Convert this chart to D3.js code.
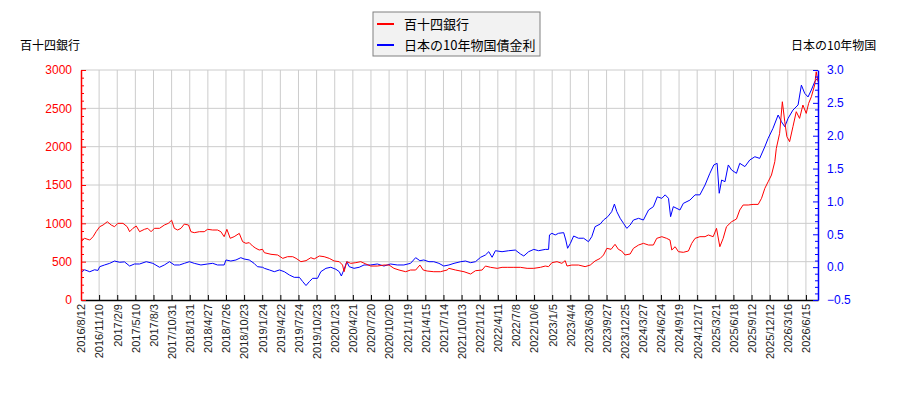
<!DOCTYPE html>
<html>
<head>
<meta charset="utf-8">
<script src="https://cdn.jsdelivr.net/npm/d3@7"></script>
<style>
  body { margin: 0; background: #fff; }
  svg { font-family: "DejaVu Sans", "Noto Sans CJK JP", sans-serif; }
  .cjk { font-family: "Noto Sans CJK JP", "DejaVu Sans", sans-serif; }
</style>
</head>
<body>
<div id="chart"></div>
<script>
// x tick labels, one every 60 trading days
const dateLabels = [
  '2016/8/12', '2016/11/10', '2017/2/9', '2017/5/10', '2017/8/3', '2017/10/31',
  '2018/1/31', '2018/4/27', '2018/7/26', '2018/10/23', '2019/1/24', '2019/4/22',
  '2019/7/24', '2019/10/23', '2020/1/23', '2020/4/21', '2020/7/20', '2020/10/20',
  '2021/1/19', '2021/4/15', '2021/7/14', '2021/10/13', '2022/1/12', '2022/4/11',
  '2022/7/8', '2022/10/6', '2023/1/5', '2023/4/4', '2023/6/30', '2023/9/27',
  '2023/12/25', '2024/3/27', '2024/6/24', '2024/9/19', '2024/12/17', '2025/3/21',
  '2025/6/18', '2025/9/12', '2025/12/12', '2026/3/16', '2026/6/15'
];
const tickStep = 60;
const lastDay = 2440;

// 百十四銀行 stock price (trading-day index, yen)
const redDays = [
  0, 12, 29, 40, 50, 62, 73, 87, 100, 111, 122, 139, 153, 161, 172, 183, 194, 210, 221, 232,
  243, 260, 276, 289, 300, 309, 320, 331, 342, 356, 364, 375, 392, 408, 419, 436, 452, 463, 474, 483,
  494, 507, 524, 535, 546, 557, 568, 579, 590, 601,
  607, 629, 651, 668, 684, 701, 712, 728, 745, 761, 772, 789, 805, 822, 838, 855, 866, 871, 880, 893,
  910, 926, 943, 959, 981, 1003, 1020, 1036, 1053, 1075, 1091, 1108, 1122, 1133, 1146, 1168, 1190, 1212,
  1218, 1240, 1268, 1290, 1306, 1328, 1339, 1356, 1378, 1394, 1411, 1433, 1455, 1477, 1499, 1521, 1537, 1548,
  1559, 1576, 1592, 1603, 1609, 1625, 1647, 1669, 1686, 1702, 1719, 1730, 1741, 1755, 1768, 1779, 1790, 1801, 1818,
  1829, 1846, 1862, 1879, 1895, 1906, 1923, 1939, 1950, 1956, 1967, 1978, 1994, 2011, 2022, 2033, 2049, 2066,
  2077, 2093, 2104, 2115, 2126, 2137, 2154, 2170, 2181, 2192, 2209, 2225, 2242, 2253, 2264, 2275, 2286, 2297,
  2302, 2313, 2322, 2330, 2337, 2346, 2357, 2368, 2379, 2390, 2401, 2409, 2418, 2429, 2434, 2440
];
const redValues = [
  760, 805, 782, 826, 891, 956, 978, 1021, 978, 956, 1000, 1000, 956, 891, 935, 965, 891, 922, 935, 891,
  935, 935, 978, 1000, 1040, 935, 913, 935, 990, 978, 891, 878, 891, 891, 922, 913, 913, 891, 826, 922,
  805, 826, 869, 761, 739, 748, 704, 674, 652, 661,
  617, 596, 587, 543, 565, 565, 543, 500, 513, 552, 535, 574, 565, 543, 509, 500, 456, 369, 500, 478,
  487, 500, 470, 443, 443, 456, 456, 413, 391, 369, 391, 391, 456, 391, 378, 369, 369, 391,
  413, 391, 369, 339, 382, 391, 443, 426, 413, 426, 426, 426, 426, 413, 413, 426, 443, 435,
  487, 500, 478, 513, 443, 456, 456, 435, 456, 509, 543, 587, 674, 661, 726, 661, 639, 587, 600,
  674, 717, 739, 717, 717, 804, 826, 804, 782, 652, 695, 630, 622, 639, 739, 804, 826, 826,
  848, 826, 935, 695, 804, 956, 1021, 1056, 1174, 1239, 1239, 1247, 1247, 1326, 1456, 1543, 1630, 1804,
  1978, 2174, 2586, 2325, 2130, 2065, 2260, 2456, 2369, 2543, 2434, 2565, 2651, 2804, 2977, 2847
];

// 日本の10年物国債金利 (trading-day index, %)
const blueDays = [
  0, 12, 29, 45, 56, 62, 78, 95, 111, 128, 144, 161, 177, 194, 216, 238, 260, 276, 293, 309,
  326, 342, 359, 375, 397, 419, 436, 452, 474, 480, 496, 513, 529, 540, 557, 573, 584, 601,
  607, 624, 640, 657, 673, 690, 706, 723, 734, 745, 756, 767, 783, 794, 811, 827, 844, 855, 862, 871,
  880, 888, 904, 921, 937, 959, 981, 1003, 1025, 1047, 1069, 1091, 1108, 1122, 1135, 1152, 1168, 1185, 1201,
  1218, 1235, 1257, 1273, 1290, 1306, 1323, 1339, 1350, 1361, 1372, 1394, 1416, 1438, 1455, 1466, 1482, 1499,
  1515, 1537, 1548, 1551, 1559, 1570, 1581, 1598, 1605, 1611, 1620, 1631, 1647, 1664, 1680, 1691, 1702, 1719,
  1730, 1744, 1757, 1766, 1774, 1785, 1796, 1807, 1818,
  1829, 1846, 1862, 1879, 1895, 1908, 1923, 1934, 1945, 1952, 1961, 1983, 1994, 2016, 2033, 2049, 2066, 2082,
  2095, 2106, 2113, 2121, 2132, 2143, 2154, 2170, 2181, 2198, 2214, 2231, 2247, 2264, 2275, 2291, 2308, 2319,
  2330, 2341, 2357, 2374, 2385, 2396, 2407, 2418, 2429, 2437
];
const blueValues = [
  -0.08, -0.04, -0.07, -0.04, -0.05, 0.007, 0.033, 0.058, 0.093, 0.074, 0.08, 0.017, 0.048, 0.048, 0.083, 0.058, -0.002, 0.033, 0.083, 0.033,
  0.033, 0.058, 0.083, 0.058, 0.033, 0.048, 0.058, 0.033, 0.033, 0.109, 0.093, 0.109, 0.144, 0.124, 0.109, 0.058, 0.007, -0.002,
  -0.018, -0.043, -0.069, -0.043, -0.069, -0.12, -0.155, -0.155, -0.22, -0.28, -0.22, -0.17, -0.17, -0.069, -0.018, -0.002, -0.033, -0.069, -0.135, -0.033,
  0.083, 0.007, -0.018, -0.002, 0.033, 0.033, 0.048, 0.017, 0.048, 0.033, 0.033, 0.058, 0.144, 0.098, 0.109, 0.083, 0.083, 0.058, 0.017,
  0.033, 0.058, 0.083, 0.093, 0.068, 0.083, 0.15, 0.185, 0.235, 0.15, 0.25, 0.235, 0.25, 0.26, 0.2, 0.17, 0.235, 0.27,
  0.25, 0.27, 0.27, 0.49, 0.515, 0.49, 0.515, 0.525, 0.413, 0.287, 0.36, 0.474, 0.44, 0.44, 0.387, 0.463, 0.616, 0.656,
  0.717, 0.768, 0.844, 0.96, 0.844, 0.743, 0.667, 0.59, 0.64,
  0.717, 0.743, 0.717, 0.87, 0.92, 1.07, 1.047, 1.1, 1.047, 0.768, 0.92, 0.87, 0.97, 1.02, 1.1, 1.1, 1.25, 1.428,
  1.555, 1.58, 1.124, 1.326, 1.3, 1.555, 1.478, 1.428, 1.58, 1.53, 1.63, 1.68, 1.655, 1.833, 1.96, 2.113, 2.315, 2.213,
  2.137, 2.265, 2.39, 2.468, 2.77, 2.645, 2.59, 2.696, 2.82, 2.87
];

const redTicks = [0, 500, 1000, 1500, 2000, 2500, 3000];
const blueTicks = [-0.5, 0.0, 0.5, 1.0, 1.5, 2.0, 2.5, 3.0];

const width = 900, height = 400;
const margin = { top: 70, right: 82, bottom: 100, left: 81 };
const innerW = width - margin.left - margin.right;
const innerH = height - margin.top - margin.bottom;

const svg = d3.select('#chart').append('svg')
  .attr('width', width)
  .attr('height', height);

const g = svg.append('g')
  .attr('transform', `translate(${margin.left},${margin.top})`);

const x = d3.scaleLinear().domain([0, lastDay]).range([0, innerW]);
const yL = d3.scaleLinear().domain([0, 3000]).range([innerH, 0]);
const yR = d3.scaleLinear().domain([-0.5, 3.0]).range([innerH, 0]);

const xTicks = dateLabels.map((d, i) => i * tickStep);

// Grid
g.append('g')
  .selectAll('line')
  .data(xTicks.slice(1))
  .join('line')
  .attr('x1', d => x(d)).attr('x2', d => x(d))
  .attr('y1', 0).attr('y2', innerH)
  .attr('stroke', '#cccccc');

g.append('g')
  .selectAll('line')
  .data(redTicks.slice(1))
  .join('line')
  .attr('x1', 0).attr('x2', innerW)
  .attr('y1', d => yL(d)).attr('y2', d => yL(d))
  .attr('stroke', '#cccccc');

// Lines
const blueData = blueDays.map((d, i) => [d, blueValues[i]]);
const redData = redDays.map((d, i) => [d, redValues[i]]);

g.append('path')
  .datum(blueData)
  .attr('fill', 'none')
  .attr('stroke', '#0000ff')
  .attr('stroke-width', 1)
  .attr('d', d3.line().x(d => x(d[0])).y(d => yR(d[1])));

g.append('path')
  .datum(redData)
  .attr('fill', 'none')
  .attr('stroke', '#ff0000')
  .attr('stroke-width', 1)
  .attr('d', d3.line().x(d => x(d[0])).y(d => yL(d[1])));

// Bottom axis
const xAxis = g.append('g')
  .attr('transform', `translate(0,${innerH})`)
  .call(d3.axisBottom(x).tickValues(xTicks).tickSize(-5).tickSizeOuter(0)
    .tickFormat((d, i) => dateLabels[i]));
xAxis.select('.domain').attr('stroke', '#000').attr('stroke-width', 1.5);
xAxis.selectAll('.tick line').attr('stroke', '#000');
xAxis.selectAll('.tick text')
  .attr('font-size', 11)
  .attr('fill', '#222')
  .attr('text-anchor', 'end')
  .attr('transform', 'rotate(-90)')
  .attr('x', -4)
  .attr('y', 0)
  .attr('dy', '0.35em');

// Left axis (red)
const leftAxis = g.append('g')
  .call(d3.axisLeft(yL).tickValues(d3.range(0, 3001, 100)).tickSize(-3).tickSizeOuter(0)
    .tickFormat(d => redTicks.includes(d) ? d : ''));
leftAxis.select('.domain').attr('stroke', '#ff0000').attr('stroke-width', 1.5);
leftAxis.selectAll('.tick line').attr('stroke', '#ff0000')
  .attr('x2', d => redTicks.includes(d) ? 5 : 3);
leftAxis.selectAll('.tick text')
  .attr('font-size', 12).attr('fill', '#ff0000').attr('x', -9);

// Right axis (blue)
const rightAxis = g.append('g')
  .attr('transform', `translate(${innerW},0)`)
  .call(d3.axisRight(yR).tickValues(d3.range(-5, 31).map(d => d / 10)).tickSize(-3).tickSizeOuter(0)
    .tickFormat(d => blueTicks.some(t => Math.abs(t - d) < 1e-9) ? d3.format('.1f')(d) : ''));
rightAxis.select('.domain').attr('stroke', '#0000ff').attr('stroke-width', 1.5);
rightAxis.selectAll('.tick line').attr('stroke', '#0000ff')
  .attr('x2', d => blueTicks.some(t => Math.abs(t - d) < 1e-9) ? -5 : -3);
rightAxis.selectAll('.tick text')
  .attr('font-size', 12).attr('fill', '#0000ff').attr('x', 9);

// Axis titles
svg.append('text')
  .attr('class', 'cjk')
  .attr('x', 20).attr('y', 50)
  .attr('font-size', 12)
  .attr('fill', '#000')
  .text('百十四銀行');

svg.append('text')
  .attr('class', 'cjk')
  .attr('x', 791).attr('y', 50)
  .attr('font-size', 12)
  .attr('fill', '#000')
  .text('日本の10年物国');

// Legend
const legend = svg.append('g').attr('transform', 'translate(373,12)');
legend.append('rect')
  .attr('width', 167).attr('height', 44)
  .attr('fill', '#f2f2f2')
  .attr('stroke', '#808080');
const legendItems = [
  { label: '百十四銀行', color: '#ff0000' },
  { label: '日本の10年物国債金利', color: '#0000ff' }
];
legendItems.forEach((item, i) => {
  const yy = 12 + i * 21;
  legend.append('line')
    .attr('x1', 4).attr('x2', 21)
    .attr('y1', yy).attr('y2', yy)
    .attr('stroke', item.color).attr('stroke-width', 2);
  legend.append('text')
    .attr('class', 'cjk')
    .attr('x', 31).attr('y', yy)
    .attr('dy', '0.35em')
    .attr('font-size', 13)
    .attr('fill', '#000')
    .text(item.label);
});
</script>
</body>
</html>
